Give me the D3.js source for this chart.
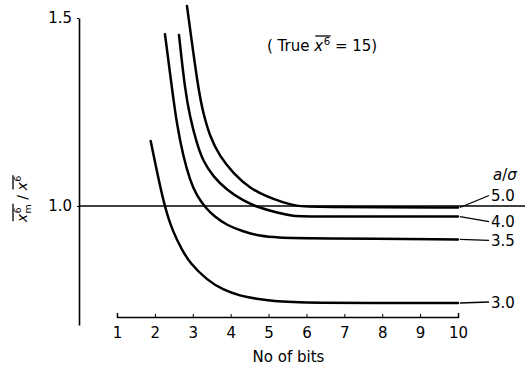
<!DOCTYPE html>
<html><head><meta charset="utf-8">
<script src="https://cdn.jsdelivr.net/npm/d3@7"></script>
<style>
html,body{margin:0;padding:0;background:#fff;}
svg{display:block;font-family:"DejaVu Sans",sans-serif;}
</style></head>
<body>
<svg id="c" width="525" height="370"></svg>
<script>
// ---- data ----
const seriesNames = ["3.0", "3.5", "4.0", "5.0"];
const bits30 = [1.889, 2.240, 2.478, 2.715, 2.926, 3.375, 3.797, 4.245, 4.694, 5.116, 5.828, 10];
const vals30 = [1.173, 1.000, 0.931, 0.883, 0.848, 0.803, 0.777, 0.761, 0.753, 0.747, 0.742, 0.742];
const bits35 = [2.266, 2.456, 2.575, 2.749, 2.926, 3.103, 3.340, 3.560, 3.894, 4.332, 4.773, 5.214, 6.092, 10];
const vals35 = [1.457, 1.309, 1.220, 1.131, 1.069, 1.027, 0.995, 0.973, 0.949, 0.932, 0.920, 0.916, 0.914, 0.911];
const bits40 = [2.636, 2.794, 2.926, 3.103, 3.277, 3.541, 3.894, 4.332, 4.686, 5.214, 5.652, 6.092, 10];
const vals40 = [1.455, 1.309, 1.237, 1.167, 1.118, 1.078, 1.043, 1.014, 0.998, 0.982, 0.973, 0.972, 0.972];
const bits50 = [2.847, 3.145, 3.277, 3.454, 3.718, 4.069, 4.509, 4.950, 5.388, 5.741, 6.092, 10];
const vals50 = [1.532, 1.309, 1.247, 1.184, 1.131, 1.087, 1.047, 1.025, 1.009, 1.000, 0.997, 0.996];
const xTicks = [1, 2, 3, 4, 5, 6, 7, 8, 9, 10];
const yTicks = [1.0, 1.5];
const refValue = 1.0;
const trueValue = 15;

const series = [
  {name: "3.0", bits: bits30, vals: vals30, dy: -1},
  {name: "3.5", bits: bits35, vals: vals35, dy: 1},
  {name: "4.0", bits: bits40, vals: vals40, dy: 5},
  {name: "5.0", bits: bits50, vals: vals50, dy: -12}
];

const svg = d3.select("#c");
const x = d3.scaleLinear().domain([1, 10]).range([117, 458]);
const y = d3.scaleLinear().domain([0.6835, 1.5]).range([325, 18]);
const axisY = 317;

// y axis
const ya = svg.append("g").attr("transform", "translate(79,0)")
  .call(d3.axisLeft(y).tickValues(yTicks).tickFormat(d3.format(".1f"))
    .tickSize(2).tickSizeOuter(0).tickPadding(5));
ya.select(".domain").attr("stroke-width", 1.6);
ya.selectAll("text").attr("font-size", 15).attr("font-family", "DejaVu Sans").attr("fill", "#000");

// x axis
const xa = svg.append("g").attr("transform", `translate(0,${axisY})`)
  .call(d3.axisBottom(x).tickValues(xTicks).tickFormat(d3.format("d"))
    .tickSize(-3).tickSizeOuter(-4).tickPadding(10));
xa.select(".domain").attr("stroke-width", 1.5);
xa.selectAll("text").attr("font-size", 15).attr("font-family", "DejaVu Sans").attr("fill", "#000");

svg.append("text").attr("x", (x(1) + x(10)) / 2 + 1).attr("y", 362)
  .attr("text-anchor", "middle").attr("font-size", 15).text("No of bits");

// reference line at 1.0
svg.append("line").attr("x1", 79).attr("x2", 525)
  .attr("y1", y(refValue)).attr("y2", y(refValue))
  .attr("stroke", "#000").attr("stroke-width", 1.3);

// curves
const line = d3.line().x(d => x(d[0])).y(d => y(d[1])).curve(d3.curveBasis);
series.forEach(s => {
  const pts = s.bits.map((b, i) => [b, s.vals[i]]);
  svg.append("path").attr("d", line(pts)).attr("fill", "none")
    .attr("stroke", "#000").attr("stroke-width", 2.5).attr("stroke-linecap", "round");
  const x0 = x(10) + 2, y0 = y(s.vals[s.vals.length - 1]);
  svg.append("line").attr("x1", x0).attr("y1", y0)
    .attr("x2", x0 + 29).attr("y2", y0 + s.dy)
    .attr("stroke", "#000").attr("stroke-width", 1.3);
  svg.append("text").attr("x", x0 + 31).attr("y", y0 + s.dy + 5.5)
    .attr("font-size", 15).text(s.name);
});

// a/sigma legend title
const lt = svg.append("text").attr("x", 493).attr("y", 180).attr("font-size", 15);
lt.append("tspan").attr("font-style", "italic").text("a");
lt.append("tspan").text("/");
lt.append("tspan").attr("font-style", "italic").text("σ");

// helper to lay out small math pieces
function mathRow(g, startX, baseline, size, parts) {
  let cx = startX;
  parts.forEach(p => {
    if (p.type === "xbar") {
      const t1 = g.append("text").attr("x", cx).attr("y", baseline)
        .attr("font-size", size).attr("font-style", "italic").text("x");
      const wx = t1.node().getComputedTextLength();
      const t2 = g.append("text").attr("x", cx + wx + 0.5).attr("y", baseline - size * 0.42)
        .attr("font-size", size * 0.68).text("6");
      let w2 = t2.node().getComputedTextLength();
      if (p.sub) {
        const t3 = g.append("text").attr("x", cx + wx + 0.5).attr("y", baseline + size * 0.3)
          .attr("font-size", size * 0.68).text(p.sub);
        w2 = Math.max(w2, t3.node().getComputedTextLength());
      }
      const w = wx + 0.5 + w2;
      g.append("line").attr("x1", cx + 1).attr("x2", cx + w + 0.5)
        .attr("y1", baseline - size * 1.0).attr("y2", baseline - size * 1.0)
        .attr("stroke", "#000").attr("stroke-width", 1.3);
      cx += w;
    } else {
      const t = g.append("text").attr("x", cx).attr("y", baseline)
        .attr("font-size", size).attr("xml:space", "preserve")
        .style("white-space", "pre").text(p.text);
      cx += t.node().getComputedTextLength();
    }
  });
  return cx - startX;
}

// title
const tg = svg.append("g");
mathRow(tg, 267, 51, 15, [
  {type: "text", text: "( True "},
  {type: "xbar"},
  {type: "text", text: " = " + trueValue + ")"}
]);

// y label (rotated)
const yg = svg.append("g");
const inner = yg.append("g");
const w = mathRow(inner, 0, 0, 14, [
  {type: "xbar", sub: "m"},
  {type: "text", text: " / "},
  {type: "xbar"}
]);
yg.attr("transform", `translate(27,${199 + w / 2}) rotate(-90)`);
</script>
</body></html>
